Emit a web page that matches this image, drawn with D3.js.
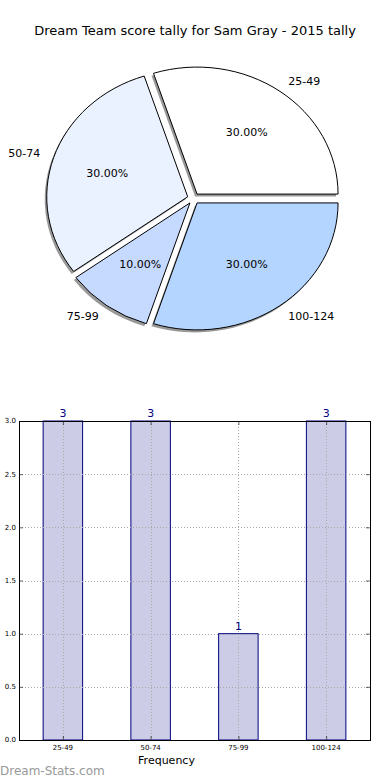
<!DOCTYPE html>
<html>
<head>
<meta charset="utf-8">
<script src="https://cdn.jsdelivr.net/npm/d3@7"></script>
<style>
  body { margin: 0; background: #fff; }
  text { font-family: "DejaVu Sans", sans-serif; }
</style>
</head>
<body>
<script>
// data
const categories = ["25-49", "50-74", "75-99", "100-124"];
const counts = [3, 3, 1, 3];
const pieColors = ["#ffffff", "#eaf1ff", "#c6d9ff", "#b4d5ff"];
const yTicks = [0, 0.5, 1, 1.5, 2, 2.5, 3];

const W = 390, H = 780;
const svg = d3.select("body").append("svg")
  .attr("width", W).attr("height", H);

svg.append("text")
  .attr("x", 195).attr("y", 35)
  .attr("text-anchor", "middle")
  .style("font-size", "13px")
  .text("Dream Team score tally for Sam Gray - 2015 tally");

// ---- pie (matplotlib style, elliptical, exploded, with shadow) ----
const cx = 193.5, cy = 198.5, rx = 141, ry = 127, R = 100, explode = 0.043;
const total = d3.sum(counts);

const pie = d3.pie().sort(null)
  .startAngle(Math.PI / 2).endAngle(Math.PI / 2 - 2 * Math.PI);
const arcs = pie(counts);
const arc = d3.arc().innerRadius(0).outerRadius(R);

function mid(d) { return (d.startAngle + d.endAngle) / 2; }
function offs(d, k) {
  const a = mid(d);
  return [cx + Math.sin(a) * k * rx, cy - Math.cos(a) * k * ry];
}

const pg = svg.append("g");
// shadows first
pg.selectAll(".shadow").data(arcs).enter().append("path")
  .attr("class", "shadow")
  .attr("d", arc)
  .attr("transform", d => {
    const p = offs(d, explode);
    return "translate(" + (p[0] - 2) + "," + (p[1] + 2.5) + ") scale(" + rx / R + "," + ry / R + ")";
  })
  .style("fill", "#6e6e6e")
  .style("opacity", 0.7);

pg.selectAll(".wedge").data(arcs).enter().append("path")
  .attr("class", "wedge")
  .attr("d", arc)
  .attr("transform", d => {
    const p = offs(d, explode);
    return "translate(" + p[0] + "," + p[1] + ") scale(" + rx / R + "," + ry / R + ")";
  })
  .style("fill", (d, i) => pieColors[i])
  .style("stroke", "#000")
  .style("stroke-width", 1)
  .attr("vector-effect", "non-scaling-stroke");

// labels
pg.selectAll(".lab").data(arcs).enter().append("text")
  .attr("x", d => { const o = offs(d, explode); return o[0] + Math.sin(mid(d)) * 1.1 * rx; })
  .attr("y", d => { const o = offs(d, explode); return o[1] - Math.cos(mid(d)) * 1.1 * ry; })
  .attr("dy", "0.35em")
  .attr("text-anchor", d => Math.sin(mid(d)) > 0 ? "start" : "end")
  .style("font-size", "11px")
  .text((d, i) => categories[i]);

pg.selectAll(".pct").data(arcs).enter().append("text")
  .attr("x", d => { const o = offs(d, explode); return o[0] + Math.sin(mid(d)) * 0.6 * rx; })
  .attr("y", d => { const o = offs(d, explode); return o[1] - Math.cos(mid(d)) * 0.6 * ry; })
  .attr("dy", "0.35em")
  .attr("text-anchor", "middle")
  .style("font-size", "11px")
  .text(d => (d.value / total * 100).toFixed(2) + "%");

// ---- bar chart ----
const x0 = 19, x1 = 370, y0 = 740, y1 = 421;
const x = d3.scaleLinear().domain([-0.5, categories.length - 0.5]).range([x0, x1]);
const y = d3.scaleLinear().domain([0, 3]).range([y0, y1]);
const bw = 0.45;

const bg = svg.append("g");

bg.selectAll(".bar").data(counts).enter().append("rect")
  .attr("x", (d, i) => x(i - bw / 2))
  .attr("width", x(bw) - x(0))
  .attr("y", d => y(d))
  .attr("height", d => y(0) - y(d))
  .style("fill", "#ccccE6")
  .style("stroke", "#000080")
  .style("stroke-width", 1);

// grid
bg.selectAll(".hgrid").data(yTicks).enter().append("line")
  .attr("x1", x0).attr("x2", x1)
  .attr("y1", d => Math.round(y(d)) + 0.5).attr("y2", d => Math.round(y(d)) + 0.5)
  .style("stroke", "#a8a8a8").style("stroke-dasharray", "1,2");
bg.selectAll(".vgrid").data(categories).enter().append("line")
  .attr("x1", (d, i) => Math.round(x(i)) + 0.5).attr("x2", (d, i) => Math.round(x(i)) + 0.5)
  .attr("y1", y0).attr("y2", y1)
  .style("stroke", "#a8a8a8").style("stroke-dasharray", "1,2");

// frame
bg.append("rect")
  .attr("x", x0 + 0.5).attr("y", y1 + 0.5)
  .attr("width", x1 - x0).attr("height", y0 - y1)
  .style("fill", "none").style("stroke", "#000").style("stroke-width", 1);

// tick marks (inward, all four sides)
const tm = bg.append("g").style("stroke", "#000").style("stroke-width", 0.6);
yTicks.forEach(t => {
  tm.append("line").attr("x1", x0).attr("x2", x0 + 4).attr("y1", y(t) + 0.5).attr("y2", y(t) + 0.5);
  tm.append("line").attr("x1", x1 - 4).attr("x2", x1).attr("y1", y(t) + 0.5).attr("y2", y(t) + 0.5);
});
categories.forEach((c, i) => {
  tm.append("line").attr("x1", x(i) + 0.5).attr("x2", x(i) + 0.5).attr("y1", y0).attr("y2", y0 - 4);
  tm.append("line").attr("x1", x(i) + 0.5).attr("x2", x(i) + 0.5).attr("y1", y1).attr("y2", y1 + 4);
});

// y tick labels
bg.selectAll(".ylab").data(yTicks).enter().append("text")
  .attr("x", x0 - 3).attr("y", d => y(d))
  .attr("dy", "0.35em")
  .attr("text-anchor", "end")
  .style("font-size", "7px")
  .text(d => d.toFixed(1));

// x tick labels
bg.selectAll(".xlab").data(categories).enter().append("text")
  .attr("x", (d, i) => x(i)).attr("y", y0 + 10)
  .attr("text-anchor", "middle")
  .style("font-size", "7px")
  .text(d => d);

// value labels
bg.selectAll(".val").data(counts).enter().append("text")
  .attr("x", (d, i) => x(i)).attr("y", d => y(d) - 4)
  .attr("text-anchor", "middle")
  .style("font-size", "11px")
  .style("fill", "#000080")
  .text(d => d);

svg.append("text")
  .attr("x", (x0 + x1) / 2 - 28).attr("y", 764)
  .attr("text-anchor", "middle")
  .style("font-size", "11px")
  .text("Frequency");

svg.append("text")
  .attr("x", 0).attr("y", 775)
  .style("font-size", "12px")
  .style("fill", "#999")
  .text("Dream-Stats.com");
</script>
</body>
</html>
